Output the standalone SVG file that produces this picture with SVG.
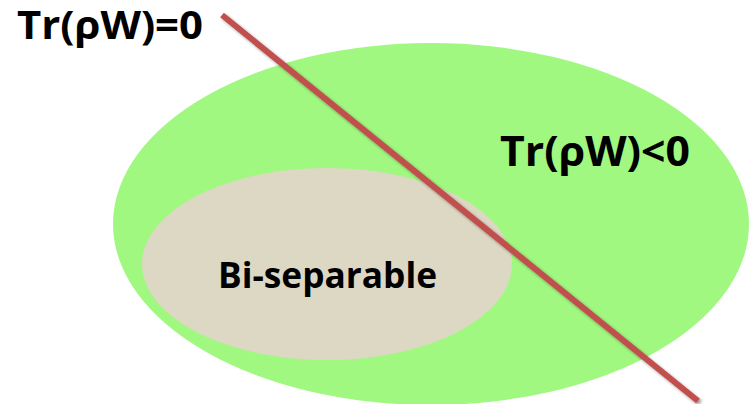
<svg xmlns="http://www.w3.org/2000/svg" width="749" height="404" viewBox="0 0 749 404">
<defs>
<style>
.t{font-family:"Open Sans","Noto Sans","Liberation Sans",sans-serif;font-weight:bold;fill:#000}
</style>
<filter id="sh" x="-10%" y="-10%" width="120%" height="120%">
<feGaussianBlur in="SourceAlpha" stdDeviation="1.5"/>
<feOffset dx="2" dy="2" result="b"/>
<feComponentTransfer><feFuncA type="linear" slope="0.4"/></feComponentTransfer>
<feMerge><feMergeNode/><feMergeNode in="SourceGraphic"/></feMerge>
</filter>
</defs>
<rect width="749" height="404" fill="#fff"/>
<g id="outer">
<ellipse cx="431" cy="224" rx="318" ry="181" fill="#a0f880"/>
<text class="t" x="500" y="166" font-size="42" textLength="190" lengthAdjust="spacingAndGlyphs">Tr(ρW)&lt;0</text>
</g>
<g id="biseparable">
<ellipse cx="327" cy="264" rx="185" ry="96" fill="#ddd8c3"/>
<text class="t" x="218" y="288" font-size="35" textLength="219" lengthAdjust="spacingAndGlyphs">Bi-separable</text>
</g>
<g id="connectors">
<line x1="222" y1="15" x2="698" y2="401" stroke="#c0504d" stroke-width="6" filter="url(#sh)"/>
</g>
<g id="label">
<text class="t" x="17" y="39" font-size="39" textLength="186" lengthAdjust="spacingAndGlyphs">Tr(ρW)=0</text>
</g>
</svg>
